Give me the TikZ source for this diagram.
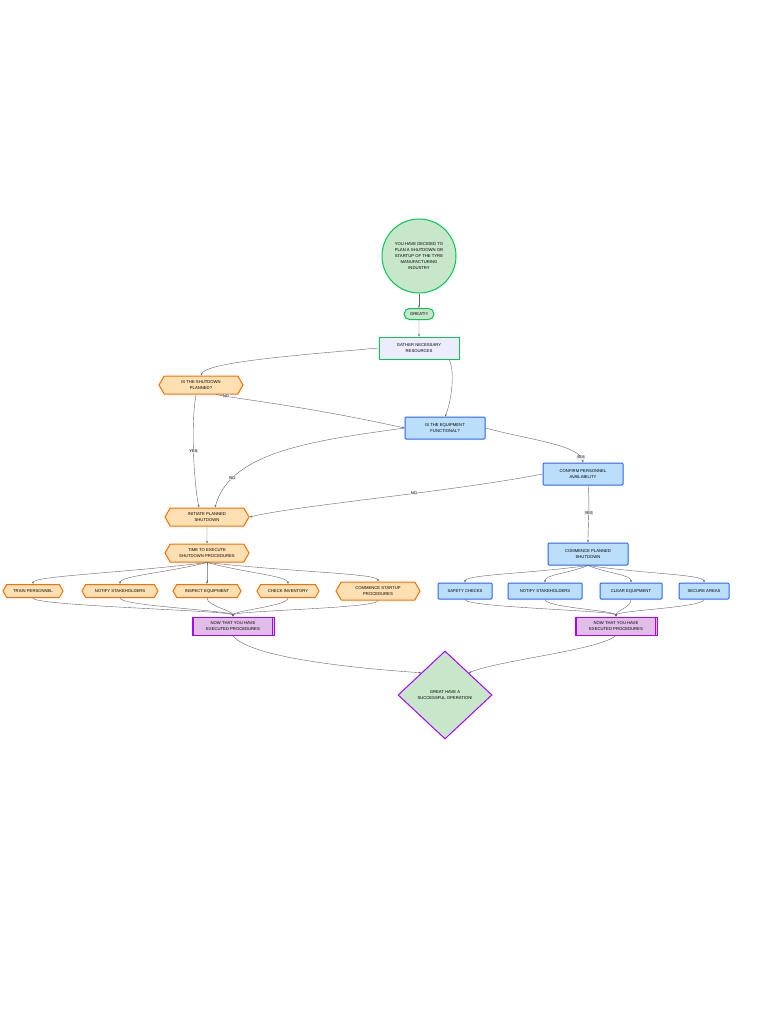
\documentclass[tikz,border=0pt]{standalone}
\usepackage{fontspec}
\setmainfont{Liberation Sans}
\usetikzlibrary{shapes.geometric,shapes.symbols,shapes.misc,arrows.meta,calc}
\definecolor{gfill}{HTML}{C8E6C9}\definecolor{gline}{HTML}{00C853}
\definecolor{ofill}{HTML}{FFE0B2}\definecolor{oline}{HTML}{FF6D00}
\definecolor{bfill}{HTML}{BBDEFB}\definecolor{bline}{HTML}{2962FF}
\definecolor{pfill}{HTML}{E1BEE7}\definecolor{pline}{HTML}{AA00FF}
\definecolor{lfill}{HTML}{ECECFF}
\tikzset{x=1pt,y=-1pt,
 base/.style={font=\fontsize{4.2}{6}\selectfont, align=center, inner sep=1pt},
 hexa/.style={base, shape=signal, signal to=west and east, signal pointer angle=120, draw=oline, fill=ofill, line width=1pt},
 bbox/.style={base, rectangle, rounded corners=1pt, draw=bline, fill=bfill, line width=1pt},
 nowbox/.style={base, rectangle, draw=pline, fill=pfill, line width=1pt, minimum width=82pt, minimum height=18pt},
 conn/.style={draw=gray!80!black, line width=0.4pt, -{Stealth[length=2.5pt,width=2pt]}},
 lab/.style={font=\fontsize{4}{5}\selectfont, fill=gray!15, inner sep=0.5pt}}
\begin{document}
\begin{tikzpicture}
\useasboundingbox (0,0) rectangle (768,1024);
\fill[white] (0,0) rectangle (768,1024);
\node[base, circle, draw=gline, fill=gfill, line width=1pt, minimum size=74pt] (start) at (419,256) {YOU HAVE DECIDED TO\\PLAN A SHUTDOWN OR\\STARTUP OF THE TYRE\\MANUFACTURING\\INDUSTRY};
\node[base, rounded rectangle, draw=gline, fill=gfill, line width=1pt, minimum width=32pt, minimum height=11pt] (great) at (419,314) {GREAT!!!};
\node[base, rectangle, draw=gline, fill=lfill, line width=0.8pt, minimum width=80pt, minimum height=22pt] (gather) at (419,348) {GATHER NECESSARY\\RESOURCES};
\node[hexa, minimum width=84pt, minimum height=18pt] (plan) at (201,385) {IS THE SHUTDOWN\\PLANNED?};
\node[bbox, minimum width=80pt, minimum height=22pt] (equip) at (445,428) {IS THE EQUIPMENT\\FUNCTIONAL?};
\node[bbox, minimum width=80pt, minimum height=22pt] (conf) at (583,474) {CONFIRM PERSONNEL\\AVAILABILITY};
\node[hexa, minimum width=84pt, minimum height=18pt] (init) at (207,517) {INITIATE PLANNED\\SHUTDOWN};
\node[hexa, minimum width=84pt, minimum height=18pt] (time) at (207,553) {TIME TO EXECUTE\\SHUTDOWN PROCEDURES};
\node[bbox, minimum width=80pt, minimum height=22pt] (cps) at (588,554) {COMMENCE PLANNED\\SHUTDOWN};
\node[hexa, minimum width=60pt, minimum height=13pt] (h1) at (33,591) {TRAIN PERSONNEL};
\node[hexa, minimum width=76pt, minimum height=13pt] (h2) at (120,591) {NOTIFY STAKEHOLDERS};
\node[hexa, minimum width=68pt, minimum height=13pt] (h3) at (207,591) {INSPECT EQUIPMENT};
\node[hexa, minimum width=62pt, minimum height=13pt] (h4) at (288,591) {CHECK INVENTORY};
\node[hexa, minimum width=84pt, minimum height=18pt] (h5) at (378,591) {COMMENCE STARTUP\\PROCEDURES};
\node[bbox, minimum width=54pt, minimum height=16pt] (b1) at (465,591) {SAFETY CHECKS};
\node[bbox, minimum width=74pt, minimum height=16pt] (b2) at (545,591) {NOTIFY STAKEHOLDERS};
\node[bbox, minimum width=62pt, minimum height=16pt] (b3) at (631,591) {CLEAR EQUIPMENT};
\node[bbox, minimum width=50pt, minimum height=16pt] (b4) at (704,591) {SECURE AREAS};
\node[nowbox] (nl) at (233,626) {NOW THAT YOU HAVE\\EXECUTED PROCEDURES};
\node[nowbox] (nr) at (616,626) {NOW THAT YOU HAVE\\EXECUTED PROCEDURES};
\foreach \n in {nl,nr}{
 \draw[pline, line width=0.8pt] ([xshift=2pt]\n.north west) -- ([xshift=2pt]\n.south west);
 \draw[pline, line width=0.8pt] ([xshift=-2pt]\n.north east) -- ([xshift=-2pt]\n.south east);}
\node[base, diamond, draw=pline, fill=gfill, line width=1pt, minimum width=94pt, minimum height=88pt, inner sep=0pt] (end) at (445,695) {GREAT HAVE A\\SUCCESSFUL OPERATION!};
\draw[conn] (start) -- (great);
\draw[conn] (great) -- (gather);
\draw[conn] (gather.west) .. controls (300,355) and (205,362) .. (plan.north);
\draw[conn] ([xshift=30pt]gather.south) .. controls (455,370) and (452,400) .. (equip.north);
\draw[conn] ([xshift=15pt]plan.south) .. controls (230,398) and (300,405) .. node[lab, pos=0.15]{NO} (equip.west);
\draw[conn] ([xshift=-5pt]plan.south) .. controls (190,430) and (195,490) .. node[lab, pos=0.45]{YES} ([xshift=-8pt]init.north);
\draw[conn] (equip.west) .. controls (320,440) and (230,450) .. node[lab, pos=0.8]{NO} ([xshift=8pt]init.north);
\draw[conn] (equip.east) .. controls (530,440) and (580,445) .. node[lab, pos=0.9]{YES} (conf.north);
\draw[conn] (conf.west) .. controls (450,492) and (300,505) .. node[lab, pos=0.4]{NO} (init.east);
\draw[conn] ([xshift=5pt]conf.south) .. controls (590,500) and (588,525) .. node[lab, pos=0.5]{YES} (cps.north);
\draw[conn] (init) -- (time);
\foreach \h in {h1,h2,h3,h4,h5}{
 \draw[conn] (time.south) .. controls ($(time.south)!0.5!(\h.north)$) and ($(\h.north)+(0,-8)$) .. (\h.north);
 \draw[conn] (\h.south) .. controls ($(\h.south)+(0,8)$) and ($(nl.north)+(0,-6)$) .. (nl.north);}
\foreach \b in {b1,b2,b3,b4}{
 \draw[conn] (cps.south) .. controls ($(cps.south)!0.5!(\b.north)$) and ($(\b.north)+(0,-8)$) .. (\b.north);
 \draw[conn] (\b.south) .. controls ($(\b.south)+(0,8)$) and ($(nr.north)+(0,-6)$) .. (nr.north);}
\draw[conn] (nl.south) .. controls (250,660) and (380,670) .. (end.north west);
\draw[conn] (nr.south) .. controls (600,650) and (500,660) .. (end.north east);
\end{tikzpicture}
\end{document}
